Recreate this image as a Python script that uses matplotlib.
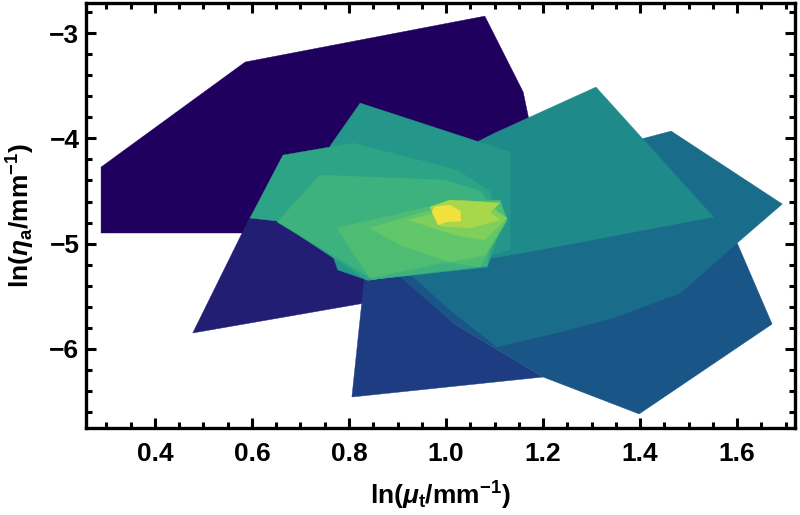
import matplotlib
matplotlib.use("Agg")
import matplotlib.pyplot as plt
from matplotlib.patches import Polygon
from matplotlib.ticker import MultipleLocator

plt.rcParams['font.family'] = ['Liberation Sans', 'DejaVu Sans']
plt.rcParams['mathtext.fontset'] = 'custom'
plt.rcParams['mathtext.rm'] = 'Liberation Sans:bold'
plt.rcParams['mathtext.it'] = 'Liberation Sans:bold:italic'
plt.rcParams['mathtext.bf'] = 'Liberation Sans:bold'

# contour regions (ln(mu_t), ln(eta_a)) from outermost (lowest level) to innermost
level1_x = [0.289, 0.586, 1.080, 1.159, 1.171, 1.169, 1.070, 0.905, 0.289]
level1_y = [-4.273, -3.275, -2.839, -3.560, -3.826, -4.100, -4.590, -4.899, -4.899]

level2_x = [0.478, 0.596, 0.652, 0.864, 0.905, 0.833]
level2_y = [-5.849, -4.747, -4.785, -4.970, -5.350, -5.564]

level3_x = [0.806, 0.833, 0.905, 1.014, 1.200]
level3_y = [-6.457, -5.270, -5.232, -5.754, -6.267]

level4_x = [0.895, 1.014, 1.200, 1.398, 1.672, 1.600, 1.420, 1.000]
level4_y = [-5.270, -5.754, -6.267, -6.618, -5.764, -4.994, -4.590, -4.950]

level5_x = [1.693, 1.600, 1.483, 1.344, 1.235, 1.105, 1.008, 0.905, 1.000, 1.318, 1.410, 1.464]
level5_y = [-4.624, -4.994, -5.469, -5.707, -5.840, -5.982, -5.631, -5.200, -4.600, -4.100, -3.997, -3.931]

level6_x = [1.309, 1.551, 1.235, 1.111, 0.946, 0.850, 0.800, 0.950, 1.100]
level6_y = [-3.513, -4.747, -5.023, -5.127, -5.203, -5.220, -4.900, -4.300, -3.950]

level7_x = [0.761, 0.823, 1.132, 1.132, 1.000, 0.840, 0.777, 0.750]
level7_y = [-4.073, -3.665, -4.130, -5.060, -5.220, -5.350, -5.250, -4.900]

level8_x = [0.596, 0.664, 0.808, 1.023, 1.090, 1.110, 1.085, 0.837, 0.652]
level8_y = [-4.757, -4.159, -4.045, -4.301, -4.500, -4.900, -5.222, -5.346, -4.785]

level9_x = [0.652, 0.740, 0.998, 1.070, 1.100, 1.085, 0.850]
level9_y = [-4.795, -4.349, -4.396, -4.500, -4.700, -5.210, -5.340]

level10_x = [0.775, 0.998, 1.111, 1.126, 1.070, 1.002, 0.843]
level10_y = [-4.852, -4.614, -4.586, -4.776, -5.222, -5.175, -5.327]

level11_x = [0.843, 0.967, 1.101, 1.122, 1.080, 1.008, 0.905]
level11_y = [-4.852, -4.681, -4.652, -4.795, -5.108, -5.175, -5.013]

level12_x = [0.922, 0.988, 1.101, 1.126, 1.080, 1.018]
level12_y = [-4.776, -4.700, -4.681, -4.757, -4.966, -4.918]

level13_x = [0.967, 1.008, 1.049, 1.111, 1.091, 1.111, 1.049, 0.988]
level13_y = [-4.652, -4.586, -4.595, -4.614, -4.700, -4.776, -4.852, -4.833]

level14_x = [0.971, 0.977, 1.008, 1.029, 1.031, 0.998, 0.984]
level14_y = [-4.700, -4.652, -4.633, -4.690, -4.785, -4.795, -4.823]

levels_x = [level1_x, level2_x, level3_x, level4_x, level5_x, level6_x, level7_x,
            level8_x, level9_x, level10_x, level11_x, level12_x, level13_x, level14_x]
levels_y = [level1_y, level2_y, level3_y, level4_y, level5_y, level6_y, level7_y,
            level8_y, level9_y, level10_y, level11_y, level12_y, level13_y, level14_y]
level_colors = ["#20005f", "#221e74", "#1d3c82", "#1a5587", "#196d8a", "#1e8a8a", "#24978a",
                "#2da486", "#3db27e", "#4fbc74", "#62c66a", "#7ecf5b", "#a7d84b", "#f1e13f"]

x_ticks = [0.4, 0.6, 0.8, 1.0, 1.2, 1.4, 1.6]
y_ticks = [-6, -5, -4, -3]

fig = plt.figure(figsize=(8.0, 5.15), dpi=100)
ax = fig.add_axes([0.108, 0.168, 0.886, 0.826])

for xs, ys, c in zip(levels_x, levels_y, level_colors):
    ax.add_patch(Polygon(list(zip(xs, ys)), closed=True, facecolor=c, edgecolor=c, linewidth=0.3))

ax.set_xlim(0.2588, 1.7196)
ax.set_ylim(-6.756, -2.715)
ax.set_xticks(x_ticks)
ax.set_yticks(y_ticks)
ax.set_xticklabels([f"{v:.1f}" for v in x_ticks])
ax.set_yticklabels([f"\u2212{abs(v)}" for v in y_ticks])
ax.xaxis.set_minor_locator(MultipleLocator(0.05))
ax.yaxis.set_minor_locator(MultipleLocator(0.2))

for s in ax.spines.values():
    s.set_linewidth(2.4)
ax.tick_params(which='both', direction='in', top=True, right=True, width=2.2)
ax.tick_params(which='major', length=7, labelsize=19)
ax.tick_params(axis='x', which='major', pad=10)
ax.tick_params(axis='y', which='major', pad=5)
ax.tick_params(which='minor', length=4)
for lab in ax.get_xticklabels() + ax.get_yticklabels():
    lab.set_fontweight('bold')

ax.set_xlabel(r'$\mathrm{ln(}\mu_\mathrm{t}\mathrm{/mm^{-1})}$', fontsize=19, labelpad=10)
ax.set_ylabel(r'$\mathrm{ln(}\eta_\mathrm{a}\mathrm{/mm^{-1})}$', fontsize=19, labelpad=9)

fig.savefig("out.png", dpi=100)
